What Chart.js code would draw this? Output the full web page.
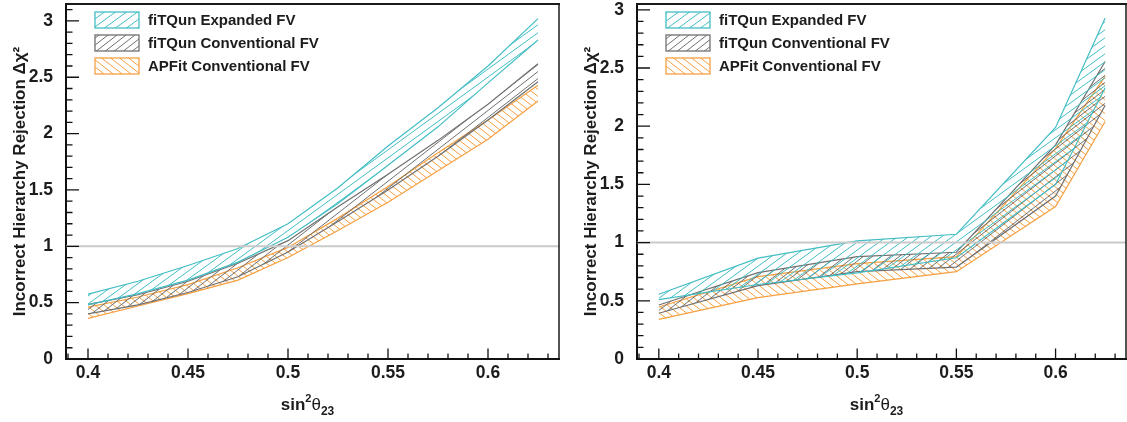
<!DOCTYPE html>
<html lang="en">
<head>
<meta charset="UTF-8">
<title>Incorrect hierarchy rejection</title>
<script src="https://cdn.jsdelivr.net/npm/chart.js@4.4.1/dist/chart.umd.min.js"></script>
<style>
  html, body { margin: 0; padding: 0; background: #fff; }
  #wrap { position: relative; width: 1127px; height: 422px; }
  .panel { position: absolute; top: 0; height: 422px; }
  #left { left: 0; width: 563px; }
  #right { left: 563px; width: 564px; }
</style>
</head>
<body>
<div id="wrap">
  <div class="panel" id="left"><canvas id="chartL"></canvas></div>
  <div class="panel" id="right"><canvas id="chartR"></canvas></div>
</div>
<script>
// series names (legend)
const seriesNames = ['fiTQun Expanded FV', 'fiTQun Conventional FV', 'APFit Conventional FV'];

// left panel, sin^2(theta23) in steps of 0.025
const xLeft = [0.4, 0.425, 0.45, 0.475, 0.5, 0.525, 0.55, 0.575, 0.6, 0.625];
const leftExpHi  = [0.575, 0.69, 0.83, 0.98, 1.20, 1.52, 1.89, 2.23, 2.60, 3.02];
const leftExpLo  = [0.48, 0.58, 0.70, 0.86, 1.08, 1.38, 1.72, 2.06, 2.45, 2.83];
const leftConvHi = [0.485, 0.57, 0.69, 0.85, 1.05, 1.35, 1.64, 1.94, 2.26, 2.62];
const leftConvLo = [0.40, 0.48, 0.59, 0.73, 0.95, 1.22, 1.50, 1.80, 2.12, 2.46];
const leftApHi   = [0.46, 0.55, 0.66, 0.81, 0.99, 1.25, 1.53, 1.83, 2.12, 2.43];
const leftApLo   = [0.36, 0.47, 0.58, 0.70, 0.90, 1.14, 1.39, 1.67, 1.95, 2.29];

// right panel, coarser steps
const xRight = [0.4, 0.45, 0.5, 0.55, 0.6, 0.625];
const rightExpHi  = [0.556, 0.866, 1.015, 1.072, 1.99, 2.93];
const rightExpLo  = [0.51, 0.64, 0.74, 0.87, 1.50, 2.33];
const rightConvHi = [0.464, 0.742, 0.88, 0.917, 1.84, 2.556];
const rightConvLo = [0.393, 0.63, 0.75, 0.79, 1.40, 2.18];
const rightApHi   = [0.447, 0.708, 0.82, 0.88, 1.81, 2.43];
const rightApLo   = [0.341, 0.527, 0.645, 0.75, 1.31, 2.04];

const xTicks = [0.4, 0.45, 0.5, 0.55, 0.6];
const yTicks = [0, 0.5, 1, 1.5, 2, 2.5, 3];
const refLevel = 1;

const CYAN = 'rgb(66,190,196)';
const GRAY = 'rgb(112,112,112)';
const ORANGE = 'rgb(246,160,66)';
const FONT = "'Liberation Sans', Arial, Helvetica, sans-serif";
const TEXT = '#1c1c1c';

// ROOT-like hatch fill
function hatch(color, w, h, back) {
  const c = document.createElement('canvas');
  c.width = w; c.height = h;
  const g = c.getContext('2d');
  g.strokeStyle = color;
  g.lineWidth = 1;
  g.beginPath();
  for (const dx of [-w, 0, w]) {
    if (back) { g.moveTo(dx - w, -h); g.lineTo(dx + 2 * w, 2 * h); }
    else { g.moveTo(dx - w, 2 * h); g.lineTo(dx + 2 * w, -h); }
  }
  g.stroke();
  return g.createPattern(c, 'repeat');
}
const patExp = hatch(CYAN, 11, 8, false);
const patConv = hatch(GRAY, 9, 7, false);
const patAp = hatch(ORANGE, 9, 7, true);

function pts(xs, ys) { return xs.map((x, i) => ({x: x, y: ys[i]})); }

function band(label, xs, hi, lo, color, pat) {
  return [
    { label: label, data: pts(xs, hi), borderColor: color, backgroundColor: pat,
      borderWidth: 1.2, fill: '+1', pointRadius: 0, tension: 0, showInLegend: true },
    { label: '', data: pts(xs, lo), borderColor: color, backgroundColor: pat,
      borderWidth: 1.2, fill: false, pointRadius: 0, tension: 0 }
  ];
}

const framePlugin = {
  id: 'frame',
  afterDatasetsDraw(chart) {
    const {ctx, chartArea: a, scales: {x, y}} = chart;
    ctx.save();
    const yr = y.getPixelForValue(refLevel);
    ctx.strokeStyle = '#c9c9c9';
    ctx.lineWidth = 2;
    ctx.beginPath(); ctx.moveTo(a.left, yr); ctx.lineTo(a.right, yr); ctx.stroke();

    ctx.strokeStyle = '#111';
    ctx.lineWidth = 1.3;
    ctx.beginPath();
    for (let i = Math.ceil(x.min * 100); i <= Math.floor(x.max * 100); i++) {
      const px = x.getPixelForValue(i / 100);
      const len = i % 5 === 0 ? 10.5 : 5.5;
      ctx.moveTo(px, a.bottom); ctx.lineTo(px, a.bottom - len);
    }
    for (let i = 0; i <= Math.floor(y.max * 10 + 1e-6); i++) {
      const py = y.getPixelForValue(i / 10);
      const len = i % 5 === 0 ? 13 : 6.5;
      ctx.moveTo(a.left, py); ctx.lineTo(a.left + len, py);
    }
    ctx.stroke();

    ctx.strokeStyle = '#1a1a1a';
    ctx.lineWidth = 2;
    ctx.beginPath(); ctx.moveTo(a.left, a.top); ctx.lineTo(a.right + 1, a.top); ctx.stroke();
    ctx.lineWidth = 1.5;
    ctx.beginPath(); ctx.moveTo(a.right, a.top); ctx.lineTo(a.right, a.bottom); ctx.stroke();
    ctx.restore();
  }
};

const legendPlugin = {
  id: 'boxLegend',
  afterDraw(chart) {
    const {ctx, chartArea: a} = chart;
    const sets = chart.data.datasets.filter(d => d.showInLegend);
    ctx.save();
    ctx.font = 'bold 15px ' + FONT;
    ctx.textBaseline = 'middle';
    sets.forEach((d, i) => {
      const bx = a.left + 29, by = 12 + i * 23;
      ctx.fillStyle = '#fff';
      ctx.fillRect(bx, by, 44, 16);
      ctx.fillStyle = d.backgroundColor;
      ctx.fillRect(bx, by, 44, 16);
      ctx.strokeStyle = d.borderColor;
      ctx.lineWidth = 1.3;
      ctx.strokeRect(bx, by, 44, 16);
      ctx.fillStyle = TEXT;
      ctx.fillText(d.label, bx + 53, by + 8.5);
    });

    // x axis title: sin^2 theta_23 with real super/subscripts
    const parts = [
      {t: 'sin', f: 'bold 17px ' + FONT, dy: 0},
      {t: '2', f: 'bold 11px ' + FONT, dy: -8},
      {t: 'θ', f: '17px ' + FONT, dy: 0},
      {t: '23', f: 'bold 12px ' + FONT, dy: 5}
    ];
    let total = 0;
    parts.forEach(p => { ctx.font = p.f; p.w = ctx.measureText(p.t).width; total += p.w; });
    let tx = (a.left + a.right) / 2 - 5 - total / 2;
    const base = 410;
    ctx.textBaseline = 'alphabetic';
    ctx.fillStyle = TEXT;
    parts.forEach(p => { ctx.font = p.f; ctx.fillText(p.t, tx, base + p.dy); tx += p.w; });
    ctx.restore();
  }
};

function makeChart(id, xs, sets, yMax, yAxisWidth, yTitlePad, rightPad) {
  const datasets = []
    .concat(band(seriesNames[0], xs, sets[0], sets[1], CYAN, patExp))
    .concat(band(seriesNames[1], xs, sets[2], sets[3], GRAY, patConv))
    .concat(band(seriesNames[2], xs, sets[4], sets[5], ORANGE, patAp));
  const tickFont = {family: FONT, weight: 'bold', size: 17.5};
  return new Chart(document.getElementById(id), {
    type: 'line',
    data: {datasets: datasets},
    options: {
      responsive: true,
      maintainAspectRatio: false,
      animation: false,
      layout: {padding: {top: 4, right: rightPad, left: 0, bottom: 0}},
      plugins: {legend: {display: false}, tooltip: {enabled: false}},
      scales: {
        x: {
          type: 'linear', min: 0.389, max: 0.6355,
          grid: {display: false},
          border: {display: true, color: '#111', width: 2},
          ticks: {font: tickFont, color: TEXT, padding: -4, maxRotation: 0,
                  callback: v => String(v)},
          afterBuildTicks: s => { s.ticks = xTicks.map(v => ({value: v})); },
          afterFit: s => { s.height = 63; s.paddingLeft = 0; s.paddingRight = 0; }
        },
        y: {
          type: 'linear', min: 0, max: yMax,
          grid: {display: false},
          border: {display: true, color: '#111', width: 2},
          ticks: {font: tickFont, color: TEXT, padding: 5,
                  callback: v => String(v)},
          afterBuildTicks: s => { s.ticks = yTicks.filter(v => v <= yMax).map(v => ({value: v})); },
          afterFit: s => { s.width = yAxisWidth; s.paddingTop = 0; s.paddingBottom = 0; },
          title: {display: true, text: 'Incorrect Hierarchy Rejection Δχ²', color: TEXT,
                  font: {family: FONT, weight: 'bold', size: 17},
                  padding: {top: yTitlePad, bottom: 0}}
        }
      }
    },
    plugins: [framePlugin, legendPlugin]
  });
}

makeChart('chartL', xLeft,
  [leftExpHi, leftExpLo, leftConvHi, leftConvLo, leftApHi, leftApLo],
  3.15, 66, 10, 4);
makeChart('chartR', xRight,
  [rightExpHi, rightExpLo, rightConvHi, rightConvLo, rightApHi, rightApLo],
  3.05, 74, 18, 1);
</script>
</body>
</html>
